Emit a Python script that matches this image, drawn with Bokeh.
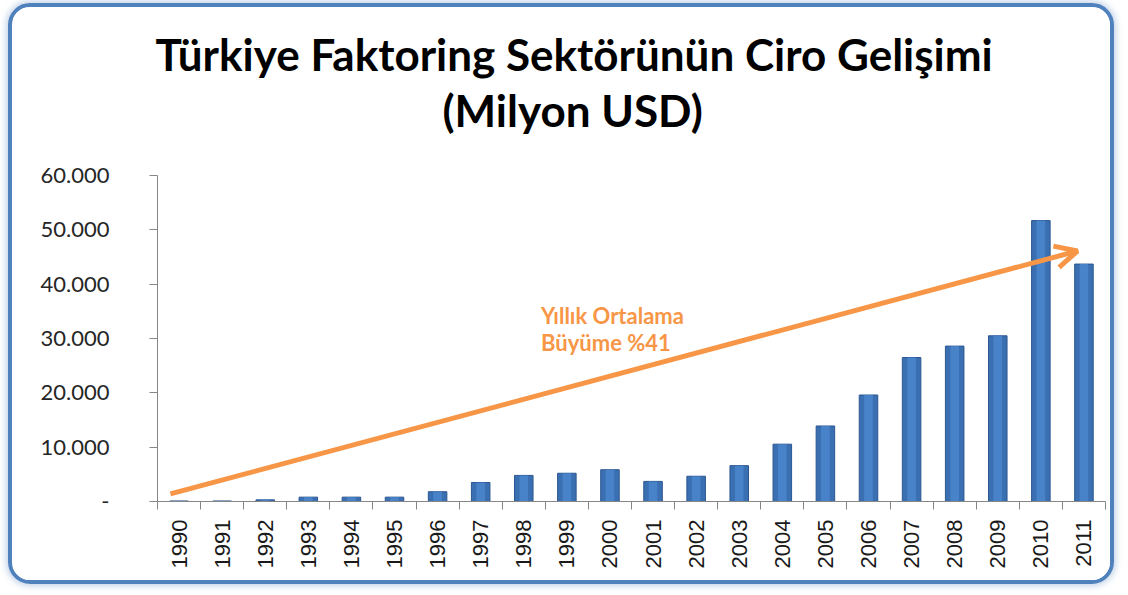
import math
from bokeh.plotting import figure
from bokeh.models import (Range1d, FixedTicker, CustomJSTickFormatter, Arrow, OpenHead,
                          Label, Title)
from bokeh.embed import file_html
from bokeh.resources import INLINE

years = ["1990", "1991", "1992", "1993", "1994", "1995", "1996", "1997", "1998", "1999",
         "2000", "2001", "2002", "2003", "2004", "2005", "2006", "2007", "2008", "2009",
         "2010", "2011"]
ciro = [100, 100, 300, 800, 800, 800, 1800, 3500, 4800, 5200,
        5850, 3700, 4650, 6600, 10550, 13900, 19600, 26500, 28600, 30500,
        51700, 43700]
y_ticks = [0, 10000, 20000, 30000, 40000, 50000, 60000]
y_tick_labels = ["-", "10.000", "20.000", "30.000", "40.000", "50.000", "60.000"]
title_lines = ["Türkiye Faktoring Sektörünün Ciro Gelişimi", "(Milyon USD)"]
note_lines = ["Yıllık Ortalama", "Büyüme %41"]
trend_start = (0.3, 1400)
trend_end = (21.35, 46100)

n = len(years)
xs = [i + 0.5 for i in range(n)]

p = figure(width=1106, height=581, output_backend="svg", toolbar_location=None,
           x_range=Range1d(0, n), y_range=Range1d(0, 60000),
           min_border_left=145, min_border_right=13, min_border_top=168, min_border_bottom=87)
p.styles = {"margin-left": "8px", "margin-top": "3px",
            "border": "4px solid #4F81BD", "border-radius": "22px",
            "box-shadow": "0 0 6px 2px rgba(79,129,189,0.35)", "overflow": "hidden"}
p.background_fill_color = "white"
p.border_fill_color = "white"
p.outline_line_color = None
p.xgrid.visible = False
p.ygrid.visible = False

# bars
p.vbar(x=xs, top=ciro, width=0.43, fill_color="#3A6FB2", line_color="#2B5690", line_width=1)
p.vbar(x=xs, top=ciro, width=0.20, fill_color="#4C88D0", line_color=None, fill_alpha=0.8)

# axes
ax = p.xaxis[0]
ax.ticker = FixedTicker(ticks=xs, minor_ticks=list(range(n + 1)))
ax.formatter = CustomJSTickFormatter(args=dict(labels=years),
                                     code="return labels[Math.floor(tick)];")
ax.major_label_orientation = math.pi / 2
ax.major_tick_line_color = None
ax.minor_tick_in = 0
ax.minor_tick_out = 8
ax.minor_tick_line_color = "#868686"
ax.axis_line_color = "#868686"
ax.major_label_text_font = "Liberation Sans"
ax.major_label_text_font_size = "22px"
ax.major_label_text_color = "#1a1a1a"
ax.major_label_standoff = 10

ay = p.yaxis[0]
ay.ticker = FixedTicker(ticks=y_ticks)
ay.major_label_overrides = {t: l for t, l in zip(y_ticks, y_tick_labels)}
ay.minor_tick_line_color = None
ay.major_tick_in = 0
ay.major_tick_out = 8
ay.major_tick_line_color = "#868686"
ay.axis_line_color = "#868686"
ay.major_label_text_font = "Lato"
ay.major_label_text_font_size = "22px"
ay.major_label_text_color = "#262626"
ay.major_label_standoff = 40

# trend arrow
p.add_layout(Arrow(end=OpenHead(line_color="#F79646", line_width=5, size=22),
                   x_start=trend_start[0], y_start=trend_start[1],
                   x_end=trend_end[0], y_end=trend_end[1],
                   line_color="#F79646", line_width=5))

# annotation text
p.add_layout(Label(x=8.9, y=34300, text=note_lines[0], text_font="Lato", text_font_style="bold",
                   text_font_size="22px", text_color="#F79646", text_baseline="middle"))
p.add_layout(Label(x=8.9, y=29200, text=note_lines[1], text_font="Lato", text_font_style="bold",
                   text_font_size="22px", text_color="#F79646", text_baseline="middle"))

# titles
p.add_layout(Title(text=title_lines[1], text_font="Lato", text_font_style="bold",
                   text_font_size="44px", text_color="black", align="left",
                   offset=285, standoff=79), "above")
p.add_layout(Title(text=title_lines[0], text_font="Lato", text_font_style="bold",
                   text_font_size="44px", text_color="black", align="left",
                   offset=-2, standoff=-74), "above")

open("out.html", "w").write(file_html(p, INLINE))
